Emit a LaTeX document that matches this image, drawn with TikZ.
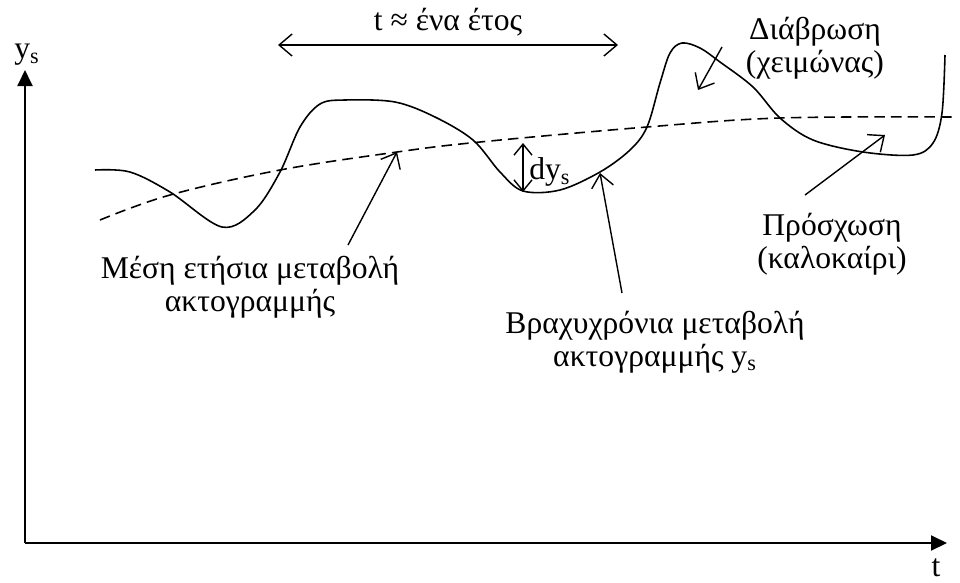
\documentclass[tikz,border=0pt]{standalone}
\usepackage{fontspec}
\setmainfont{Liberation Serif}
\usetikzlibrary{arrows.meta, positioning}

\begin{document}
\begin{tikzpicture}[x=0.02cm, y=-0.02cm,
    every node/.style={font=\fontsize{18}{19}\selectfont, align=center, inner sep=0pt},
    pointer/.style={line width=0.8pt, -{Straight Barb[length=2.6mm, width=4.4mm]}},
    axis/.style={line width=1.1pt, -{Triangle[length=3.2mm, width=3mm]}}]
  \useasboundingbox (0,0) rectangle (960,582);
  % axes
  \coordinate (o) at (25,543);
  \coordinate (yend) at (25,70);
  \coordinate (xend) at (947,543);
  \draw[axis] (o) -- (yend);
  \draw[axis] (o) -- (xend);
  \node (ylab) at (27,55) {y\textsubscript{s}};
  \node (tlab) at (936,568) {t};
  % one year span
  \coordinate (ya) at (278,45);
  \coordinate (yb) at (618,45);
  \draw[line width=0.8pt, {Straight Barb[length=2.6mm, width=4.4mm]}-{Straight Barb[length=2.6mm, width=4.4mm]}] (ya) -- (yb);
  \node (year) at (448,22) {t ≈ ένα έτος};
  % mean trend (dashed)
  \draw[line width=0.9pt, dash pattern=on 6pt off 3.5pt] plot[smooth, tension=0.6] coordinates
    {(100,220) (170,195) (280,170) (397,152) (480,142) (647,127) (780,118) (953,117)};
  % short-term shoreline (solid)
  \draw[line width=0.9pt] plot[smooth, tension=0.55] coordinates
    {(95,170) (130,172) (170,192) (222,227) (255,210) (280,172) (300,127) (320,104)
     (345,100) (395,102) (435,117) (473,140) (500,172) (523,191) (560,190) (600,172)
     (630,150) (647,127) (660,83) (670,53) (682,43) (700,48) (720,62) (753,87)
     (780,118) (813,140) (863,152) (913,155) (933,143) (942,113) (945,55)};
  % dy_s
  \coordinate (da) at (523,143);
  \coordinate (db) at (523,192);
  \draw[line width=0.8pt, {Straight Barb[length=2.2mm, width=3.6mm]}-{Straight Barb[length=2.2mm, width=3.6mm]}] (da) -- (db);
  \node[anchor=west] (dy) at (529,172) {dy\textsubscript{s}};
  % labels
  \node (mean) at (250,287) {Μέση ετήσια μεταβολή\\ακτογραμμής};
  \node (short) at (655,342) {Βραχυχρόνια μεταβολή\\ακτογραμμής y\textsubscript{s}};
  \node (accr) at (832,244) {Πρόσχωση\\(καλοκαίρι)};
  \node (eros) at (815,48) {Διάβρωση\\(χειμώνας)};
  % pointers
  \coordinate (meanT) at (348,245);
  \coordinate (meanH) at (397,152);
  \coordinate (shortT) at (622,293);
  \coordinate (shortH) at (600,173);
  \coordinate (accrT) at (805,195);
  \coordinate (accrH) at (885,135);
  \coordinate (erosT) at (722,47);
  \coordinate (erosH) at (698,90);
  \draw[pointer] (meanT) -- (meanH);
  \draw[pointer] (shortT) -- (shortH);
  \draw[pointer] (accrT) -- (accrH);
  \draw[pointer] (erosT) -- (erosH);
\end{tikzpicture}
\end{document}
